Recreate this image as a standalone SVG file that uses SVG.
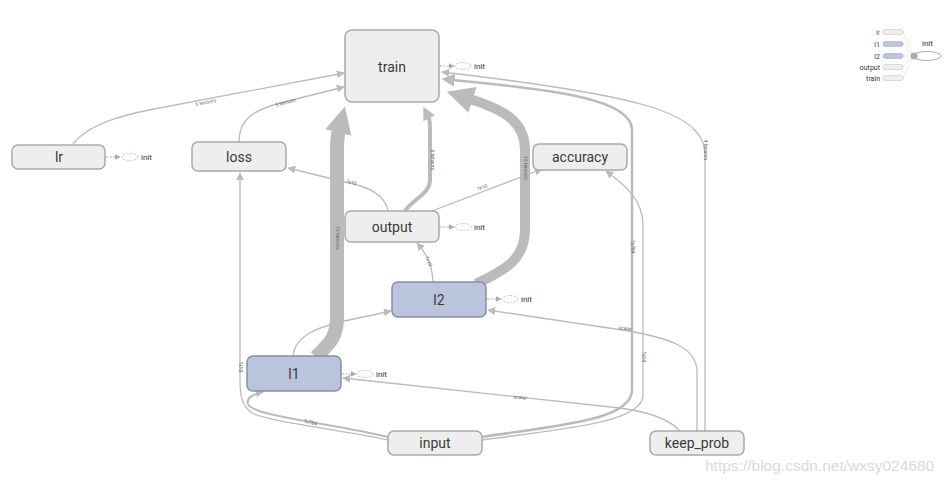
<svg xmlns="http://www.w3.org/2000/svg" width="949" height="483" viewBox="0 0 949 483">
<style>
.node rect{fill:#eeeeee;stroke:#a9a9a9;stroke-width:1.5}
.node.blue rect{fill:#bac4dd;stroke:#878fa5}
.node text.nl{font-family:Roboto,"Liberation Sans",sans-serif;font-size:14px;fill:#3a3a3a;text-anchor:middle}
.e{fill:none;stroke:#bbbbbb;stroke-width:1.3}
.lbl{font-family:Roboto,"Liberation Sans",sans-serif;font-size:5px;fill:#666;text-anchor:middle}
.initl{fill:none;stroke:#aaaaaa;stroke-width:1;stroke-dasharray:2,1.5}
.inite{fill:#fff;stroke:#c4c4c4;stroke-width:1;stroke-dasharray:2,1.5}
.initt{font-family:Roboto,"Liberation Sans",sans-serif;font-size:8px;fill:#333}
.leg{font-family:Roboto,"Liberation Sans",sans-serif;font-size:7px;fill:#333;text-anchor:end}
.legr{fill:#eeeeee;stroke:#bbbbbb;stroke-width:0.8;stroke-dasharray:1.5,1}
.legb{fill:#bac4dd;stroke:#9aa2b8;stroke-width:0.8;stroke-dasharray:1.5,1}
</style>
<defs>
<marker id="aS" viewBox="0 0 10 10" refX="9" refY="5" markerWidth="8" markerHeight="8" markerUnits="userSpaceOnUse" orient="auto"><path d="M0,0 L10,5 L0,10 z" fill="#bbbbbb"/></marker>
<marker id="aM" viewBox="0 0 10 10" refX="2" refY="5" markerWidth="13" markerHeight="13" markerUnits="userSpaceOnUse" orient="auto"><path d="M0,0 L10,5 L0,10 z" fill="#bbbbbb"/></marker>
<marker id="aL" viewBox="0 0 10 10" refX="1" refY="5" markerWidth="27" markerHeight="27" markerUnits="userSpaceOnUse" orient="auto"><path d="M0,0 L10,5 L0,10 z" fill="#bbbbbb"/></marker>
<marker id="aI" viewBox="0 0 10 10" refX="9" refY="5" markerWidth="6" markerHeight="6" markerUnits="userSpaceOnUse" orient="auto"><path d="M0,0 L10,5 L0,10 z" fill="#aaaaaa"/></marker>
</defs>
<rect width="949" height="483" fill="#ffffff"/>

<g id="connectors">
<path class="e" d="M73,144 C90,122 130,113 170,106 L344,73" marker-end="url(#aS)"/>
<path class="e" d="M239,142 C239,118 255,110 280,103 L344,87" marker-end="url(#aS)"/>
<path class="e" style="stroke-width:14" d="M316,357 C326,346 337,340 337,318 L337,150 C337,140 338,134 339,130" marker-end="url(#aL)"/>
<path class="e" style="stroke-width:10" d="M476,284 C500,272 525,262 525,230 L525,150 C525,122 505,110 470,99" marker-end="url(#aL)"/>
<path class="e" style="stroke-width:4" d="M405,211 C414,198 430,194 430,180 L430,128 C430,122 429,118 428,116" marker-end="url(#aM)"/>
<path class="e" d="M388,211 C385,195 370,187 345,182 L288,168" marker-end="url(#aS)"/>
<path class="e" d="M432,211 L542,169" marker-end="url(#aS)"/>
<path class="e" d="M433,282 C432,262 425,252 417,243" marker-end="url(#aS)"/>
<path class="e" d="M293,356 C295,335 320,327 340,322 L391,311" marker-end="url(#aS)"/>
<path class="e" style="stroke-width:2" d="M388,437 C330,423 252,416 248,404 C246,397 254,394 263,392" marker-end="url(#aS)"/>
<path class="e" d="M388,440 C330,428 270,422 252,413 C242,406 240,396 240,380 L240,173" marker-end="url(#aS)"/>
<path class="e" style="stroke-width:2.5" d="M482,437 C560,425 632,420 632,390 L632,130 C632,100 560,90 452,80" marker-end="url(#aM)"/>
<path class="e" d="M482,440 C570,428 643,422 643,395 L643,225 C643,200 625,185 606,171" marker-end="url(#aS)"/>
<path class="e" d="M697,431 L697,372 C697,348 672,338 622,330 L488,310" marker-end="url(#aS)"/>
<path class="e" d="M680,431 C670,420 650,412 620,408 L343,378" marker-end="url(#aS)"/>
<path class="e" d="M705,431 L705,155 C705,112 640,95 442,72" marker-end="url(#aS)"/>
<text class="lbl" transform="translate(206,104) rotate(-11)">6 tensors</text>
<text class="lbl" transform="translate(286,104) rotate(-15)">5 tensors</text>
<text class="lbl" transform="translate(336,238) rotate(90)">16 tensors</text>
<text class="lbl" transform="translate(524,168) rotate(90)">16 tensors</text>
<text class="lbl" transform="translate(431,160) rotate(90)">6 tensors</text>
<text class="lbl" transform="translate(351,184) rotate(14)">?x10</text>
<text class="lbl" transform="translate(483,189) rotate(-21)">?x10</text>
<text class="lbl" transform="translate(427,262) rotate(68)">?x10</text>
<text class="lbl" transform="translate(310,424) rotate(15)">?x784</text>
<text class="lbl" transform="translate(239,367) rotate(90)">?x10</text>
<text class="lbl" transform="translate(631,247) rotate(90)">?x784</text>
<text class="lbl" transform="translate(642,357) rotate(90)">?x10</text>
<text class="lbl" transform="translate(625,330) rotate(8)">scalar</text>
<text class="lbl" transform="translate(520,399) rotate(6)">scalar</text>
<text class="lbl" transform="translate(704,150) rotate(90)">4 tensors</text>
</g>

<g id="node-train" class="node">
<rect x="345" y="30" width="94" height="72" rx="7"/>
<text class="nl" x="392" y="72">train</text>
<path class="initl" d="M440,66 L454,66" marker-end="url(#aI)"/>
<ellipse class="inite" cx="463" cy="66" rx="8" ry="3.5"/>
<text class="initt" x="474" y="69">init</text>
</g>
<g id="node-lr" class="node">
<rect x="12" y="145" width="93" height="24" rx="6"/>
<text class="nl" x="59" y="162">lr</text>
<path class="initl" d="M106,157 L120,157" marker-end="url(#aI)"/>
<ellipse class="inite" cx="130" cy="157" rx="8" ry="3.5"/>
<text class="initt" x="141" y="160">init</text>
</g>
<g id="node-loss" class="node">
<rect x="192" y="142" width="94" height="29" rx="6"/>
<text class="nl" x="239" y="162">loss</text>
</g>
<g id="node-accuracy" class="node">
<rect x="533" y="144" width="94" height="26" rx="6"/>
<text class="nl" x="580" y="162">accuracy</text>
</g>
<g id="node-output" class="node">
<rect x="345" y="211" width="94" height="31" rx="6"/>
<text class="nl" x="392" y="232">output</text>
<path class="initl" d="M440,227 L454,227" marker-end="url(#aI)"/>
<ellipse class="inite" cx="463" cy="227" rx="8" ry="3.5"/>
<text class="initt" x="474" y="230">init</text>
</g>
<g id="node-l2" class="node blue">
<rect x="392" y="282" width="94" height="35" rx="6"/>
<text class="nl" x="439" y="305">l2</text>
<path class="initl" d="M487,299 L501,299" marker-end="url(#aI)"/>
<ellipse class="inite" cx="510" cy="299" rx="8" ry="3.5"/>
<text class="initt" x="521" y="302">init</text>
</g>
<g id="node-l1" class="node blue">
<rect x="247" y="356" width="94" height="35" rx="6"/>
<text class="nl" x="294" y="379">l1</text>
<path class="initl" d="M342,374 L356,374" marker-end="url(#aI)"/>
<ellipse class="inite" cx="365" cy="374" rx="8" ry="3.5"/>
<text class="initt" x="376" y="377">init</text>
</g>
<g id="node-input" class="node">
<rect x="388" y="431" width="94" height="24" rx="6"/>
<text class="nl" x="435" y="448">input</text>
</g>
<g id="node-keep_prob" class="node">
<rect x="650" y="431" width="94" height="24" rx="6"/>
<text class="nl" x="697" y="448">keep_prob</text>
</g>

<g id="legend">
<g stroke="#c4c4c4" stroke-width="0.7" stroke-dasharray="1,1" fill="none">
<path d="M903,32 L913,56"/><path d="M903,44 L913,56"/><path d="M903,56 L913,56"/><path d="M903,67 L913,56"/><path d="M903,78 L913,56"/>
</g>
<rect class="legr" x="883" y="29.5" width="20" height="5" rx="2"/>
<rect class="legb" x="883" y="41.5" width="20" height="5" rx="2"/>
<rect class="legb" x="883" y="53.5" width="20" height="5" rx="2"/>
<rect class="legr" x="883" y="64.5" width="20" height="5" rx="2"/>
<rect class="legr" x="883" y="75.5" width="20" height="5" rx="2"/>
<text class="leg" x="880" y="34.5" style="fill:#3b6cb5">lr</text>
<text class="leg" x="880" y="46.5">l1</text>
<text class="leg" x="880" y="58.5">l2</text>
<text class="leg" x="880" y="69.5">output</text>
<text class="leg" x="880" y="80.5">train</text>
<ellipse cx="927" cy="56" rx="14" ry="4.5" fill="none" stroke="#aaaaaa" stroke-width="1"/>
<circle cx="914" cy="56" r="3.5" fill="#aaaaaa"/>
<text class="initt" x="922" y="46">init</text>
</g>

<text x="705" y="471" font-family="'Liberation Sans',Arial,sans-serif" font-size="15.5" fill="#dadada">https://blog.csdn.net/wxsy024680</text>
</svg>
